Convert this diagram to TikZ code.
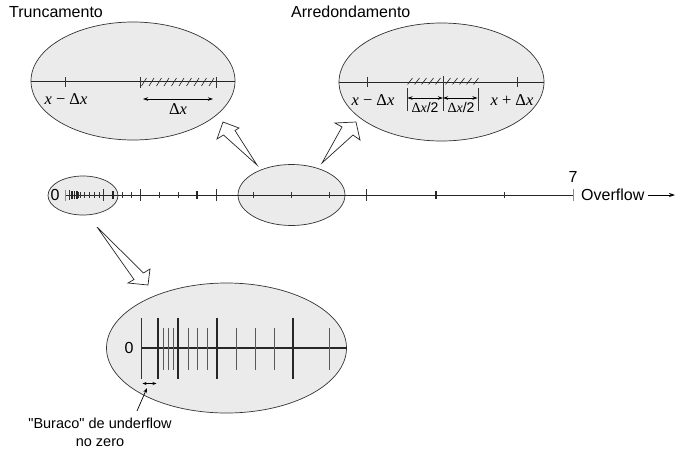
\documentclass[tikz,border=0pt]{standalone}
\usepackage{fontspec}
\setmainfont{Liberation Sans}
\newfontfamily\tms{Liberation Serif}
\newcommand\straightdq{\XeTeXglyph\XeTeXcharglyph"22\relax}
\usetikzlibrary{shapes.geometric,arrows.meta}
\begin{document}
\begin{tikzpicture}[x=1pt,y=-1pt,
  lens/.style={ellipse,draw=black!80,fill=black!8,line width=0.7pt,inner sep=0pt},
  axisline/.style={line width=0.9pt,black!85},
  tk/.style={line width=0.7pt,black!80},
  tkb/.style={line width=1.6pt,black!85},
  tkm/.style={line width=1.2pt,black!85},
  tkg/.style={line width=0.8pt,black!45},
  hatch/.style={line width=0.6pt,black!85},
  lbl/.style={inner sep=0pt,font=\fontsize{16}{17}\selectfont},
  hlbl/.style={inner sep=0pt,font=\fontsize{14.5}{18}\selectfont},
  mlbl/.style={inner sep=0pt,font=\tms\fontsize{16.5}{18}\selectfont},
  slbl/.style={inner sep=0pt,font=\fontsize{14}{16}\selectfont},
  blockarrow/.style={draw=black!85,fill=white,line width=0.7pt,line join=miter},
  dim/.style={{Stealth[length=5pt,width=3.5pt]}-{Stealth[length=5pt,width=3.5pt]},line width=0.7pt},
  smalldim/.style={{Stealth[length=4pt,width=3pt]}-{Stealth[length=4pt,width=3pt]},line width=0.6pt},
]
\useasboundingbox (0,0) rectangle (677,450);

% ---------- ellipses ----------
\node[lens,minimum width=204pt,minimum height=118pt] (tl) at (133,81) {};
\node[lens,minimum width=205pt,minimum height=118pt] (tr) at (441.5,82) {};
\node[lens,minimum width=70pt,minimum height=39pt] (sm) at (83,195.5) {};
\node[lens,minimum width=107pt,minimum height=61pt] (md) at (291.5,195) {};
\node[lens,minimum width=240pt,minimum height=130pt] (bt) at (226.5,348) {};

% ---------- titles ----------
\node[lbl,anchor=west] (trunc) at (9,12) {Truncamento};
\node[lbl,anchor=west] (arred) at (291,12) {Arredondamento};

% ---------- main axis ----------
\coordinate (a0) at (65,195);
\coordinate (a7) at (573,195);
\draw[axisline] (a0) -- (a7);
\foreach \x/\h in {69/5,78/3,80/3,84/3,89/3,94/3,99/3,103/6,122/3,131/3,140/6,159/3,178/3,216/6,253/3,291/3,329/3,366/6,504/3}
  \draw[tk] (\x,195-\h) -- (\x,195+\h);
\foreach \x/\h in {72/4,74.5/4,77/4,113/4,197/4,436/4}
  \draw[tkm] (\x,195-\h) -- (\x,195+\h);
\foreach \x/\h in {65/5.5,573/6}
  \draw[tkg] (\x,195-\h) -- (\x,195+\h);
\node[lbl] (zero) at (55,195) {0};
\node[lbl] (seven) at (573,177) {7};
\node[lbl,anchor=west] (ovf) at (581,195) {Overflow};
\coordinate (ovfend) at (675,195);
\draw[line width=0.8pt,-{Stealth[length=6pt,width=4pt]}] (ovf.east) ++(3,0) -- (ovfend);

% ---------- block arrows ----------
\draw[blockarrow] (257,165) -- (223.5,135) -- (217,139) -- (223,122) -- (239,128) -- (235,130.5) -- cycle;
\draw[blockarrow] (322,163) -- (342,127) -- (335,123) -- (356,122) -- (360,140) -- (353,135) -- cycle;
\draw[blockarrow] (97,227) -- (134,279.5) -- (128,283) -- (148,285) -- (150,269) -- (143.5,273) -- cycle;

% ---------- truncation ellipse ----------
\draw[axisline] (tl.west) -- (tl.east);
\draw[tk] (65,77) -- (65,87);
\node[mlbl] (tlxm) at (66,99) {\textit{x} − Δ\textit{x}};
\draw[tk] (140,77) -- (140,88);
\draw[tk] (216,77) -- (216,88);
\foreach \x in {144,151.5,159,166.5,174,181.5,189,196.5,204,211.5}
  \draw[hatch] (\x-2.5,86) -- (\x+2.5,78);
\coordinate (tld1) at (143,99);
\coordinate (tld2) at (213,99);
\draw[dim] (tld1) -- (tld2);
\node[mlbl] (tldx) at (178,109) {Δ\textit{x}};

% ---------- rounding ellipse ----------
\draw[axisline] (tr.west) -- (tr.east);
\draw[tk] (367,77) -- (367,87);
\draw[tk] (517,77) -- (517,87);
\node[mlbl] (trxm) at (373,100) {\textit{x} − Δ\textit{x}};
\node[mlbl] (trxp) at (512,100) {\textit{x} + Δ\textit{x}};
\draw[tk] (443,76) -- (443,111);
\draw[tk] (407,88) -- (407,111);
\draw[tk] (478,88) -- (478,111);
\foreach \x in {410,417,424,431,438,448,455,462,469,476}
  \draw[hatch] (\x-2.5,84.5) -- (\x+2.5,78);
\coordinate (trl) at (407.5,98);
\coordinate (trc) at (443,98);
\coordinate (trr) at (477.5,98);
\draw[dim] (trl) -- (trc);
\draw[dim] (trc) -- (trr);
\node[slbl] (trh1) at (425,107) {{\tms Δ\textit{x}}/2};
\node[slbl] (trh2) at (461,107) {{\tms Δ\textit{x}}/2};

% ---------- bottom zoom ----------
\coordinate (b0) at (141,348);
\draw[line width=1.2pt,black!85] (b0) -- (bt.east);
\node[lbl] (bzero) at (129,348) {0};
\draw[tk] (141,318) -- (141,379);
\foreach \x in {158,178,217,293}
  \draw[tkb] (\x,318) -- (\x,379);
\foreach \x in {163,168,173,188,197,207,236,255,274,329}
  \draw[line width=0.9pt,black!65] (\x,328) -- (\x,370);
\coordinate (g1) at (142.5,383.5);
\coordinate (g2) at (156.5,383.5);
\draw[smalldim] (g1) -- (g2);
\node[hlbl,align=center] (hole) at (100,432) {\straightdq Buraco\straightdq{} de underflow\\no zero};
\coordinate (hp) at (137,411);
\coordinate (hq) at (147,388);
\draw[line width=0.7pt,-{Stealth[length=5pt,width=3.5pt]}] (hp) -- (hq);
\end{tikzpicture}
\end{document}
